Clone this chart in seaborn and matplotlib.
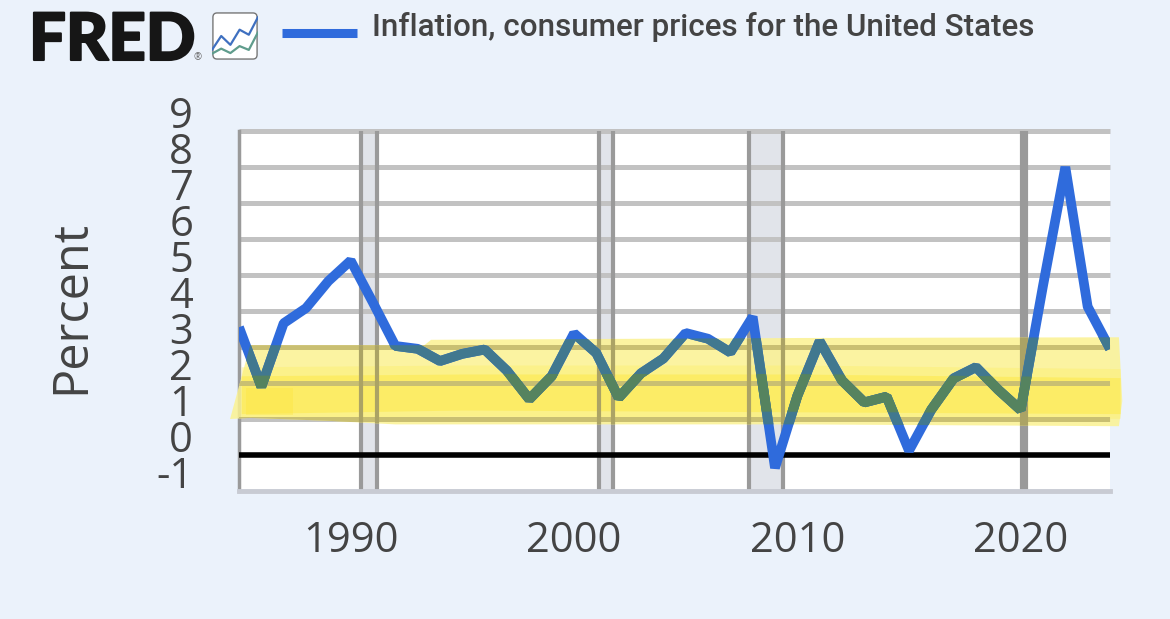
import matplotlib
matplotlib.use('Agg')
import matplotlib.pyplot as plt
import matplotlib.patheffects as pe
import matplotlib.transforms as mtrans
from matplotlib.patches import FancyBboxPatch
import pandas as pd
import seaborn as sns

WIDTH, HEIGHT = 1170, 619

ANOS = list(range(1985, 2025))
INFLACAO = [3.55, 1.90, 3.66, 4.08, 4.83, 5.40, 4.23, 3.03, 2.95, 2.61,
            2.81, 2.93, 2.34, 1.55, 2.19, 3.38, 2.83, 1.59, 2.27, 2.68,
            3.39, 3.23, 2.85, 3.84, -0.36, 1.64, 3.16, 2.07, 1.46, 1.62,
            0.12, 1.26, 2.13, 2.44, 1.81, 1.25, 4.70, 8.00, 4.12, 2.95]
RECESSOES = [(1990.46, 1991.17), (2001.12, 2001.75), (2007.84, 2009.36), (2020.05, 2020.25)]
Y_TICKS = [-1, 0, 1, 2, 3, 4, 5, 6, 7, 8, 9]
X_TICKS = [1990, 2000, 2010, 2020]
SERIE = 'Inflation, consumer prices for the United States'

# marca de texto feita a mao por cima do grafico
MARCA_X = [1984.6, 1985.5, 1993.3, 1993.6, 2010, 2024.4, 2024.55, 2024.4, 2010, 1992, 1989, 1985.5, 1984.6]
MARCA_TOPO = [1.0, 3.05, 3.05, 3.2, 3.25, 3.27, 1.5, 0.8, 0.85, 0.85, 0.95, 1.03, 1.0]
FAIXA_X = [1985.1, 1995, 2010, 2024.45]
FAIXA_CIMA = [2.2, 2.25, 2.25, 2.15]
FAIXA_BAIXO = [1.15, 1.25, 1.2, 1.15]
MEIA_CIMA = [2.45, 2.5, 2.5, 2.4]
MEIA_BAIXO = [1.05, 1.08, 1.05, 1.02]
BORRAO_X = [1985.3, 1987.4]
BORRAO_CIMA = [1.85, 1.85]
BORRAO_BAIXO = [1.12, 1.12]

ICONE_AZUL = [1, 3.2, 1.8, 4.2, 3.4, 6.2]
ICONE_VERDE = [0.4, 1.2, 0.5, 1.6, 1.0, 3.8]

df = pd.DataFrame({'ano': ANOS, 'inflacao': INFLACAO})
icone = pd.DataFrame({'x': range(len(ICONE_AZUL)), 'azul': ICONE_AZUL, 'verde': ICONE_VERDE})

sns.set_theme(style='white')
plt.rcParams['font.family'] = ['Open Sans', 'DejaVu Sans']
plt.rcParams['axes.unicode_minus'] = False

FUNDO = '#ebf2fb'
AZUL = '#2f6bdc'
fig = plt.figure(figsize=(WIDTH / 100, HEIGHT / 100), dpi=100, facecolor=FUNDO)
ax = fig.add_axes([239 / WIDTH, 1 - 491 / HEIGHT, 871 / WIDTH, 360 / HEIGHT])
ax.set_facecolor('white')

for ini, fim in RECESSOES:
    ax.axvspan(ini, fim, color='#e1e4ea', lw=0, zorder=1)
    ax.axvline(ini, color='#9a9a9a', lw=3, zorder=2)
    ax.axvline(fim, color='#9a9a9a', lw=3, zorder=2)

for v in Y_TICKS[2:]:
    ax.axhline(v, color='#c2c2c2', lw=3.6, zorder=1.5, clip_on=False, solid_capstyle='butt')

# camadas do marca-texto
marca = ax.fill(MARCA_X, MARCA_TOPO, color='#fbf291', alpha=0.85, lw=0, zorder=3, clip_on=False)[0]
ax.fill_between(FAIXA_X, MEIA_BAIXO, MEIA_CIMA, color='#fdef6e', alpha=0.45, lw=0, zorder=3.05, clip_on=False)
faixa = ax.fill_between(FAIXA_X, FAIXA_BAIXO, FAIXA_CIMA, color='#fdea4e', alpha=0.6, lw=0, zorder=3.1, clip_on=False)
ax.fill_between(BORRAO_X, BORRAO_BAIXO, BORRAO_CIMA, color='#fde433', alpha=0.3, lw=0, zorder=3.2)

for v in Y_TICKS[2:5]:
    l = ax.axhline(v, color='#c9bf72', lw=3.6, zorder=3.4)
    l.set_clip_path(marca)
for ini, fim in RECESSOES:
    for xv in (ini, fim):
        l = ax.axvline(xv, color='#aba365', lw=3, zorder=3.4)
        l.set_clip_path(marca)

ax.axhline(0, color='black', lw=4, zorder=3.5)

estilo = dict(lw=7, ax=ax, solid_joinstyle='bevel', solid_capstyle='butt', errorbar=None)
sns.lineplot(data=df, x='ano', y='inflacao', color=AZUL, zorder=4, label=SERIE, **estilo)
sns.lineplot(data=df, x='ano', y='inflacao', color='#41788f', zorder=4.1, legend=False, **estilo)
ax.lines[-1].set_clip_path(marca)
sns.lineplot(data=df, x='ano', y='inflacao', color='#55835f', zorder=4.2, legend=False, **estilo)
ax.lines[-1].set_clip_path(faixa.get_paths()[0], ax.transData)

ax.set_xlim(1985, 2024)
ax.set_ylim(-1, 9)
ax.set_xlabel('')
ax.set_ylabel('Percent', fontsize=35, color='#444444', labelpad=0)
ax.yaxis.set_label_coords(-143 / 871, 0.512)

ax.set_xticks(X_TICKS)
ax.set_yticks(Y_TICKS)
ax.tick_params(axis='x', labelsize=30, labelcolor='#444444', color='#d3d9e6', length=8, width=2, pad=13)
ax.tick_params(axis='y', labelsize=30, labelcolor='#444444', length=0, pad=33)
# os rotulos do eixo y ficam acima das linhas na imagem original
subir = mtrans.ScaledTranslation(0, 19 / 100, fig.dpi_scale_trans)
for rotulo in ax.get_yticklabels():
    rotulo.set_transform(rotulo.get_transform() + subir)

for lado in ['top', 'right']:
    ax.spines[lado].set_visible(False)
ax.spines['left'].set_color('#9a9a9a')
ax.spines['left'].set_linewidth(2.5)
ax.spines['bottom'].set_color('#c8cbd3')
ax.spines['bottom'].set_linewidth(3.5)

leg = ax.legend(loc='center left', bbox_to_anchor=(282 / WIDTH, 1 - 27 / HEIGHT), bbox_transform=fig.transFigure,
                frameon=False, handlelength=2.39, handletextpad=0.48, borderpad=0, borderaxespad=0,
                prop={'family': 'Roboto', 'size': 22.6, 'weight': 'medium'})
leg.get_texts()[0].set_color('#444444')
chave = leg.get_lines()[0]
chave.set_linewidth(6.5)
chave.set_ydata([y - 5.5 for y in chave.get_ydata()])

# logo
fig.text(29 / WIDTH, 1 - 60 / HEIGHT, 'FRED', fontsize=47, fontweight='black', family='Lato',
         color='#161616', ha='left', va='baseline',
         path_effects=[pe.withStroke(linewidth=1.5, foreground='#161616')])
fig.text(193 / WIDTH, 1 - 60 / HEIGHT, '®', fontsize=7, color='#666666', ha='left', va='baseline')

ic = fig.add_axes([212 / WIDTH, 1 - 60 / HEIGHT, 46 / WIDTH, 48 / HEIGHT])
ic.axis('off')
ic.add_patch(FancyBboxPatch((0.02, 0.02), 0.96, 0.96, boxstyle='round,pad=0,rounding_size=0.09',
                            transform=ic.transAxes, fc='white', ec='#777777', lw=1, clip_on=False))
sns.lineplot(data=icone, x='x', y='azul', color='#3f70c0', lw=1.6, ax=ic, errorbar=None)
sns.lineplot(data=icone, x='x', y='verde', color='#5f9c8c', lw=1.6, ax=ic, errorbar=None)
ic.set_xlim(0, 5)
ic.set_ylim(-0.6, 7)

fig.savefig('out.png', dpi=100, facecolor=FUNDO)
